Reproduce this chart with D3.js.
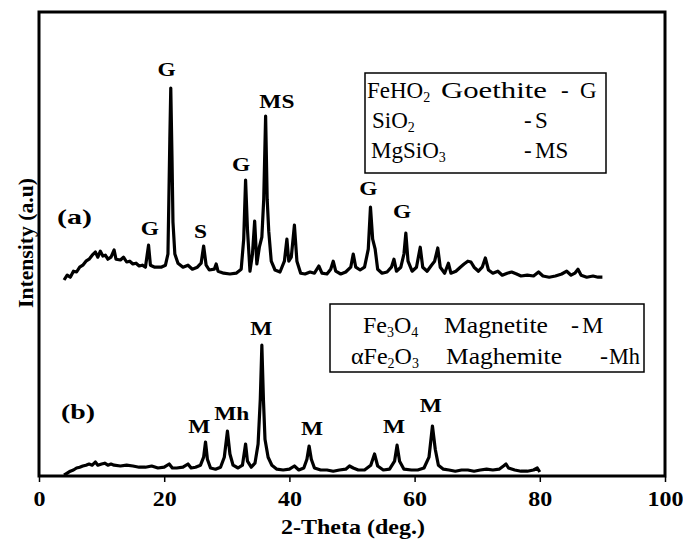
<!DOCTYPE html>
<html>
<head>
<meta charset="utf-8">
<script src="https://cdn.jsdelivr.net/npm/d3@7"></script>
<style>
  body { margin: 0; background: #fff; }
  text { font-family: "Liberation Serif", "Times New Roman", serif; fill: #000; }
</style>
</head>
<body>
<div class="chart"></div>
<script>
var width = 683, height = 545,
    plot = {left: 39, right: 665, top: 12, bottom: 476};

// pattern (a) - goethite sample, 2-theta (deg.) and intensity (a.u., offset trace)
var thetaA = [4.0,4.5,5.0,5.5,6.0,6.5,7.0,7.5,8.0,8.5,9.0,9.4,9.8,10.2,10.6,11.0,11.5,12.0,12.3,13.0,
  13.5,14.0,14.5,15.0,15.5,16.0,16.5,17.0,17.5,17.8,18.5,19.5,20.2,20.6,20.9,21.05,21.25,21.4,21.7,22.2,
  23.0,23.8,24.5,25.3,25.9,26.3,26.7,27.2,28.0,28.3,28.6,29.5,30.5,31.5,32.3,32.7,33.0,33.3,33.7,34.1,
  34.45,34.8,35.2,35.6,35.9,36.2,36.45,36.7,37.1,37.7,38.5,39.2,39.6,39.9,40.3,40.8,41.2,41.8,42.5,43.3,
  44.0,44.7,45.2,46.0,46.6,47.0,47.4,48.2,49.0,49.8,50.2,50.6,51.3,52.0,52.6,52.95,53.3,53.7,54.1,54.8,
  55.6,56.3,56.7,57.1,57.8,58.3,58.6,58.95,59.6,60.3,60.9,61.3,62.0,62.7,63.2,63.7,64.1,64.8,65.4,65.8,
  66.6,67.3,67.9,68.5,69.0,69.5,70.2,70.8,71.3,71.8,72.5,73.3,74.0,74.8,75.5,76.3,77.0,78.0,79.0,79.8,
  80.5,81.5,82.5,83.5,84.3,85.0,85.6,86.1,86.6,87.5,88.5,89.3,90.0];
var intA = [490,502,497,512,510,522,527,537,542,552,560,547,562,550,552,542,547,565,542,540,
  547,535,537,530,532,525,527,522,577,527,522,522,527,555,842,970,792,635,555,532,
  522,527,517,522,532,575,527,515,517,530,512,507,505,507,517,592,740,617,512,555,
  637,530,572,597,692,900,692,612,537,515,510,537,592,537,547,627,537,507,505,510,
  507,525,507,505,517,537,512,505,510,522,555,522,515,522,567,672,592,567,517,507,
  510,522,542,512,522,555,607,537,512,522,572,522,512,527,537,570,522,507,532,507,
  512,522,530,537,535,522,512,522,545,515,507,512,502,507,510,505,500,502,500,510,
  500,497,500,505,512,502,507,517,502,497,500,497,497];

// pattern (b) - magnetite / maghemite sample
var thetaB = [4.0,4.5,5.0,5.5,6.0,6.5,7.0,7.5,8.0,8.5,9.0,9.4,10.0,10.5,11.0,11.5,12.0,13.0,14.0,15.0,
  16.0,17.0,18.0,19.0,20.0,20.8,21.3,22.0,23.0,23.8,24.3,25.0,25.8,26.3,26.6,26.9,27.4,28.2,29.0,29.6,
  30.1,30.5,31.0,31.8,32.5,33.0,33.3,33.9,34.5,35.0,35.35,35.6,35.85,36.1,36.6,37.2,38.0,39.0,40.0,40.8,
  41.5,42.3,42.8,43.15,43.5,44.0,45.0,46.0,47.0,48.0,49.0,49.6,50.2,51.0,52.0,53.0,53.6,54.1,55.0,56.0,
  56.8,57.2,57.6,58.3,59.5,60.5,61.5,62.3,62.85,63.3,63.8,64.6,65.5,66.5,67.5,68.5,69.5,70.5,71.5,72.5,
  73.5,74.2,74.6,75.0,76.0,77.0,78.0,79.0,79.6,80.0];
var intB = [2,7,12,15,20,22,25,27,30,27,35,27,30,32,27,30,27,25,27,25,
  22,22,25,20,22,30,20,20,22,30,20,22,27,47,85,42,20,17,22,47,
  112,55,27,20,27,80,37,22,32,80,192,327,192,92,47,27,17,15,17,25,
  15,20,42,75,42,20,15,15,12,15,17,25,20,15,15,27,55,25,15,17,
  37,77,37,17,15,15,20,47,125,67,27,17,15,12,15,15,12,15,17,15,
  17,25,30,20,15,12,12,15,20,10];

// phase labels above the peaks
var peakTextA = ["G", "G", "S", "G", "MS", "G", "G"];
var peakThetaA = [17.7, 20.4, 25.8, 32.3, 38.0, 52.6, 58.0];
var peakIntA = [602, 999, 595, 762, 920, 702, 644];
var peakTextB = ["M", "Mh", "M", "M", "M", "M"];
var peakThetaB = [25.6, 30.8, 35.5, 43.6, 56.7, 62.6];
var peakIntB = [107, 140, 352, 102, 107, 160];

var xTicks = [0, 20, 40, 60, 80, 100];

var x = d3.scaleLinear().domain([0, 100]).range([plot.left, plot.right]);
var y = d3.scaleLinear().domain([0, 1160]).range([plot.bottom, plot.top]);

var svg = d3.select(".chart")
  .append("svg")
    .attr("width", width)
    .attr("height", height);

var line = d3.line()
  .x(function(d) { return x(d[0]); })
  .y(function(d) { return y(d[1]); });

function trace(th, val) {
  svg.append("path")
    .datum(d3.zip(th, val))
    .attr("d", line)
    .style("fill", "none")
    .style("stroke", "#000")
    .style("stroke-width", 3.2)
    .style("stroke-linejoin", "round");
}
trace(thetaA, intA);
trace(thetaB, intB);

// frame
svg.append("rect")
  .attr("x", plot.left)
  .attr("y", plot.top)
  .attr("width", plot.right - plot.left)
  .attr("height", plot.bottom - plot.top)
  .style("fill", "none")
  .style("stroke", "#000")
  .style("stroke-width", 3);

var xAxis = svg.append("g")
  .attr("transform", "translate(0," + (plot.bottom + 1) + ")")
  .call(d3.axisBottom(x).tickValues(xTicks).tickSize(5).tickSizeOuter(0).tickPadding(9));
xAxis.select(".domain").remove();
xAxis.selectAll("line").style("stroke", "#000").style("stroke-width", 1.5);
xAxis.selectAll("text")
  .style("font-family", "Liberation Serif")
  .style("font-size", "21px")
  .style("font-weight", "bold")
  .attr("textLength", function(d) { return String(d).length * 12; })
  .attr("lengthAdjust", "spacingAndGlyphs");

svg.append("text")
  .attr("x", 353).attr("y", 534)
  .attr("text-anchor", "middle")
  .attr("textLength", 144).attr("lengthAdjust", "spacingAndGlyphs")
  .style("font-size", "21px").style("font-weight", "bold")
  .text("2-Theta (deg.)");

svg.append("text")
  .attr("transform", "translate(33,243) rotate(-90)")
  .attr("text-anchor", "middle")
  .attr("textLength", 130).attr("lengthAdjust", "spacingAndGlyphs")
  .style("font-size", "21px").style("font-weight", "bold")
  .text("Intensity (a.u)");

// peak labels
function peakLabels(txt, th, val) {
  svg.selectAll(null)
    .data(d3.zip(txt, th, val))
    .enter().append("text")
      .attr("transform", function(d) { return "translate(" + x(d[1]) + "," + y(d[2]) + ") scale(1.3,1)"; })
      .attr("text-anchor", "middle")
      .style("font-size", "18px").style("font-weight", "bold")
      .text(function(d) { return d[0]; });
}
peakLabels(peakTextA, peakThetaA, peakIntA);
peakLabels(peakTextB, peakThetaB, peakIntB);

svg.append("text").attr("x", 57).attr("y", 224)
  .attr("textLength", 35).attr("lengthAdjust", "spacingAndGlyphs")
  .style("font-size", "21px").style("font-weight", "bold").text("(a)");
svg.append("text").attr("x", 61).attr("y", 419)
  .attr("textLength", 34).attr("lengthAdjust", "spacingAndGlyphs")
  .style("font-size", "21px").style("font-weight", "bold").text("(b)");

// legend boxes: chunks of [parts, x, baseline, stretch width]; a part is [string, subscript?]
var legend1 = [
  [[["FeHO", 0], ["2", 1]], 367, 98, 0], [[["Goethite", 0]], 441, 98, 106], [[["-", 0]], 561, 98, 0], [[["G", 0]], 580, 98, 0],
  [[["SiO", 0], ["2", 1]], 372, 128, 0], [[["-", 0]], 524, 128, 0], [[["S", 0]], 535, 128, 0],
  [[["MgSiO", 0], ["3", 1]], 371, 158, 0], [[["-", 0]], 524, 158, 0], [[["MS", 0]], 535, 158, 0]
];
var legend2 = [
  [[["Fe", 0], ["3", 1], ["O", 0], ["4", 1]], 363, 333, 0], [[["Magnetite", 0]], 444, 333, 104],
  [[["-", 0]], 571, 333, 0], [[["M", 0]], 582, 333, 0],
  [[["\u03b1Fe", 0], ["2", 1], ["O", 0], ["3", 1]], 351, 364, 0], [[["Maghemite", 0]], 446, 364, 116],
  [[["-", 0]], 600, 364, 0], [[["Mh", 0]], 609, 364, 31]
];

function legendBox(bx, by, bw, bh, items, size) {
  svg.append("rect")
    .attr("x", bx).attr("y", by).attr("width", bw).attr("height", bh)
    .style("fill", "#fff").style("stroke", "#000").style("stroke-width", 1.5);
  items.forEach(function(it) {
    var t = svg.append("text")
      .attr("x", it[1])
      .attr("y", it[2])
      .style("font-size", size + "px");
    var shift = 0;
    it[0].forEach(function(p) {
      var dy = (p[1] ? 4 : 0) - shift;
      shift += dy;
      t.append("tspan")
        .attr("dy", dy)
        .style("font-size", (p[1] ? 14 : size) + "px")
        .text(p[0]);
    });
    if (it[3]) t.attr("textLength", it[3]).attr("lengthAdjust", "spacingAndGlyphs");
  });
}
legendBox(365, 73, 241, 100, legend1, 23);
legendBox(330, 304, 314, 68, legend2, 24);
</script>
</body>
</html>
